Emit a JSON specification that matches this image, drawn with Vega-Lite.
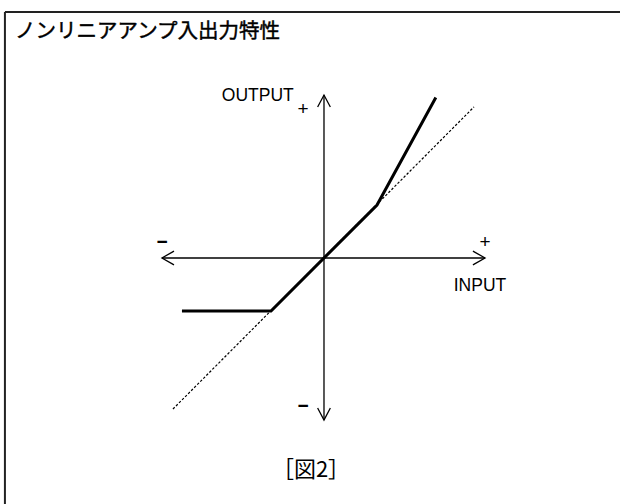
{
  "$schema": "https://vega.github.io/schema/vega-lite/v6.json",
  "width": 620,
  "height": 504,
  "padding": 0,
  "autosize": {"type": "none"},
  "background": "white",
  "config": {"view": {"stroke": null}},
  "datasets": {
    "frame": [
      {"s": "top", "o": 1, "x": -6.02, "y": 4.642},
      {"s": "top", "o": 2, "x": 5.66, "y": 4.642},
      {"s": "left", "o": 1, "x": -6.02, "y": 4.642},
      {"s": "left", "o": 2, "x": -6.02, "y": -4.7}
    ],
    "axes": [
      {"s": "h", "o": 1, "x": -3.057, "y": 0},
      {"s": "h", "o": 2, "x": 3.038, "y": 0},
      {"s": "v", "o": 1, "x": 0, "y": -3.057},
      {"s": "v", "o": 2, "x": 0, "y": 3.075},
      {"s": "ar", "o": 1, "x": 2.81, "y": 0.13},
      {"s": "ar", "o": 2, "x": 3.038, "y": 0},
      {"s": "ar", "o": 3, "x": 2.81, "y": -0.13},
      {"s": "al", "o": 1, "x": -2.83, "y": 0.13},
      {"s": "al", "o": 2, "x": -3.057, "y": 0},
      {"s": "al", "o": 3, "x": -2.83, "y": -0.13},
      {"s": "at", "o": 1, "x": -0.12, "y": 2.85},
      {"s": "at", "o": 2, "x": 0, "y": 3.075},
      {"s": "at", "o": 3, "x": 0.12, "y": 2.85},
      {"s": "ab", "o": 1, "x": -0.12, "y": -2.83},
      {"s": "ab", "o": 2, "x": 0, "y": -3.057},
      {"s": "ab", "o": 3, "x": 0.12, "y": -2.83}
    ],
    "linear": [
      {"o": 1, "x": -2.85, "y": -2.85},
      {"o": 2, "x": 2.83, "y": 2.85}
    ],
    "nonlinear": [
      {"o": 1, "x": -2.68, "y": -1.0},
      {"o": 2, "x": -1.0, "y": -1.0},
      {"o": 3, "x": 1.0, "y": 1.0},
      {"o": 4, "x": 2.11, "y": 3.03}
    ],
    "words": [
      {"t": "OUTPUT", "x": -1.25, "y": 3.06},
      {"t": "INPUT", "x": 2.943, "y": -0.528}
    ],
    "plus": [
      {"t": "+", "x": -0.396, "y": 2.82},
      {"t": "+", "x": 3.038, "y": 0.3}
    ],
    "minus": [
      {"t": "−", "x": -3.057, "y": 0.31},
      {"t": "−", "x": -0.396, "y": -2.8}
    ],
    "title": [{"t": "ノンリニアアンプ入出力特性", "x": -5.83, "y": 4.264}],
    "fig": [{"t": "［図2］", "x": -0.245, "y": -4.0}]
  },
  "encoding": {
    "x": {"field": "x", "type": "quantitative", "axis": null, "scale": {"domain": [-6.113, 5.585], "nice": false, "zero": false}},
    "y": {"field": "y", "type": "quantitative", "axis": null, "scale": {"domain": [-4.642, 4.868], "nice": false, "zero": false}}
  },
  "layer": [
    {
      "data": {"name": "frame"},
      "mark": {"type": "line", "color": "#222", "strokeWidth": 2, "strokeCap": "butt"},
      "encoding": {"detail": {"field": "s"}, "order": {"field": "o"}}
    },
    {
      "data": {"name": "axes"},
      "mark": {"type": "line", "color": "#000", "strokeWidth": 1.3},
      "encoding": {"detail": {"field": "s"}, "order": {"field": "o"}}
    },
    {
      "data": {"name": "linear"},
      "mark": {"type": "line", "color": "#000", "strokeWidth": 1.2, "strokeDash": [2.5, 1.8]},
      "encoding": {"order": {"field": "o"}}
    },
    {
      "data": {"name": "nonlinear"},
      "mark": {"type": "line", "color": "#000", "strokeWidth": 3, "strokeJoin": "miter"},
      "encoding": {"order": {"field": "o"}}
    },
    {
      "data": {"name": "words"},
      "mark": {"type": "text", "font": "Liberation Sans", "fontSize": 17.5, "align": "center", "baseline": "middle", "color": "#000"},
      "encoding": {"text": {"field": "t"}}
    },
    {
      "data": {"name": "plus"},
      "mark": {"type": "text", "font": "Liberation Sans", "fontSize": 19, "align": "center", "baseline": "middle", "color": "#000"},
      "encoding": {"text": {"field": "t"}}
    },
    {
      "data": {"name": "minus"},
      "mark": {"type": "text", "font": "Liberation Sans", "fontSize": 19, "fontWeight": "bold", "align": "center", "baseline": "middle", "color": "#000"},
      "encoding": {"text": {"field": "t"}}
    },
    {
      "data": {"name": "title"},
      "mark": {"type": "text", "font": "Noto Sans CJK JP", "fontSize": 20.5, "fontWeight": "normal", "align": "left", "baseline": "middle", "color": "#000", "stroke": "#000", "strokeWidth": 0.45},
      "encoding": {"text": {"field": "t"}}
    },
    {
      "data": {"name": "fig"},
      "mark": {"type": "text", "font": "Noto Sans CJK JP", "fontSize": 22, "align": "center", "baseline": "middle", "color": "#000"},
      "encoding": {"text": {"field": "t"}}
    }
  ]
}
